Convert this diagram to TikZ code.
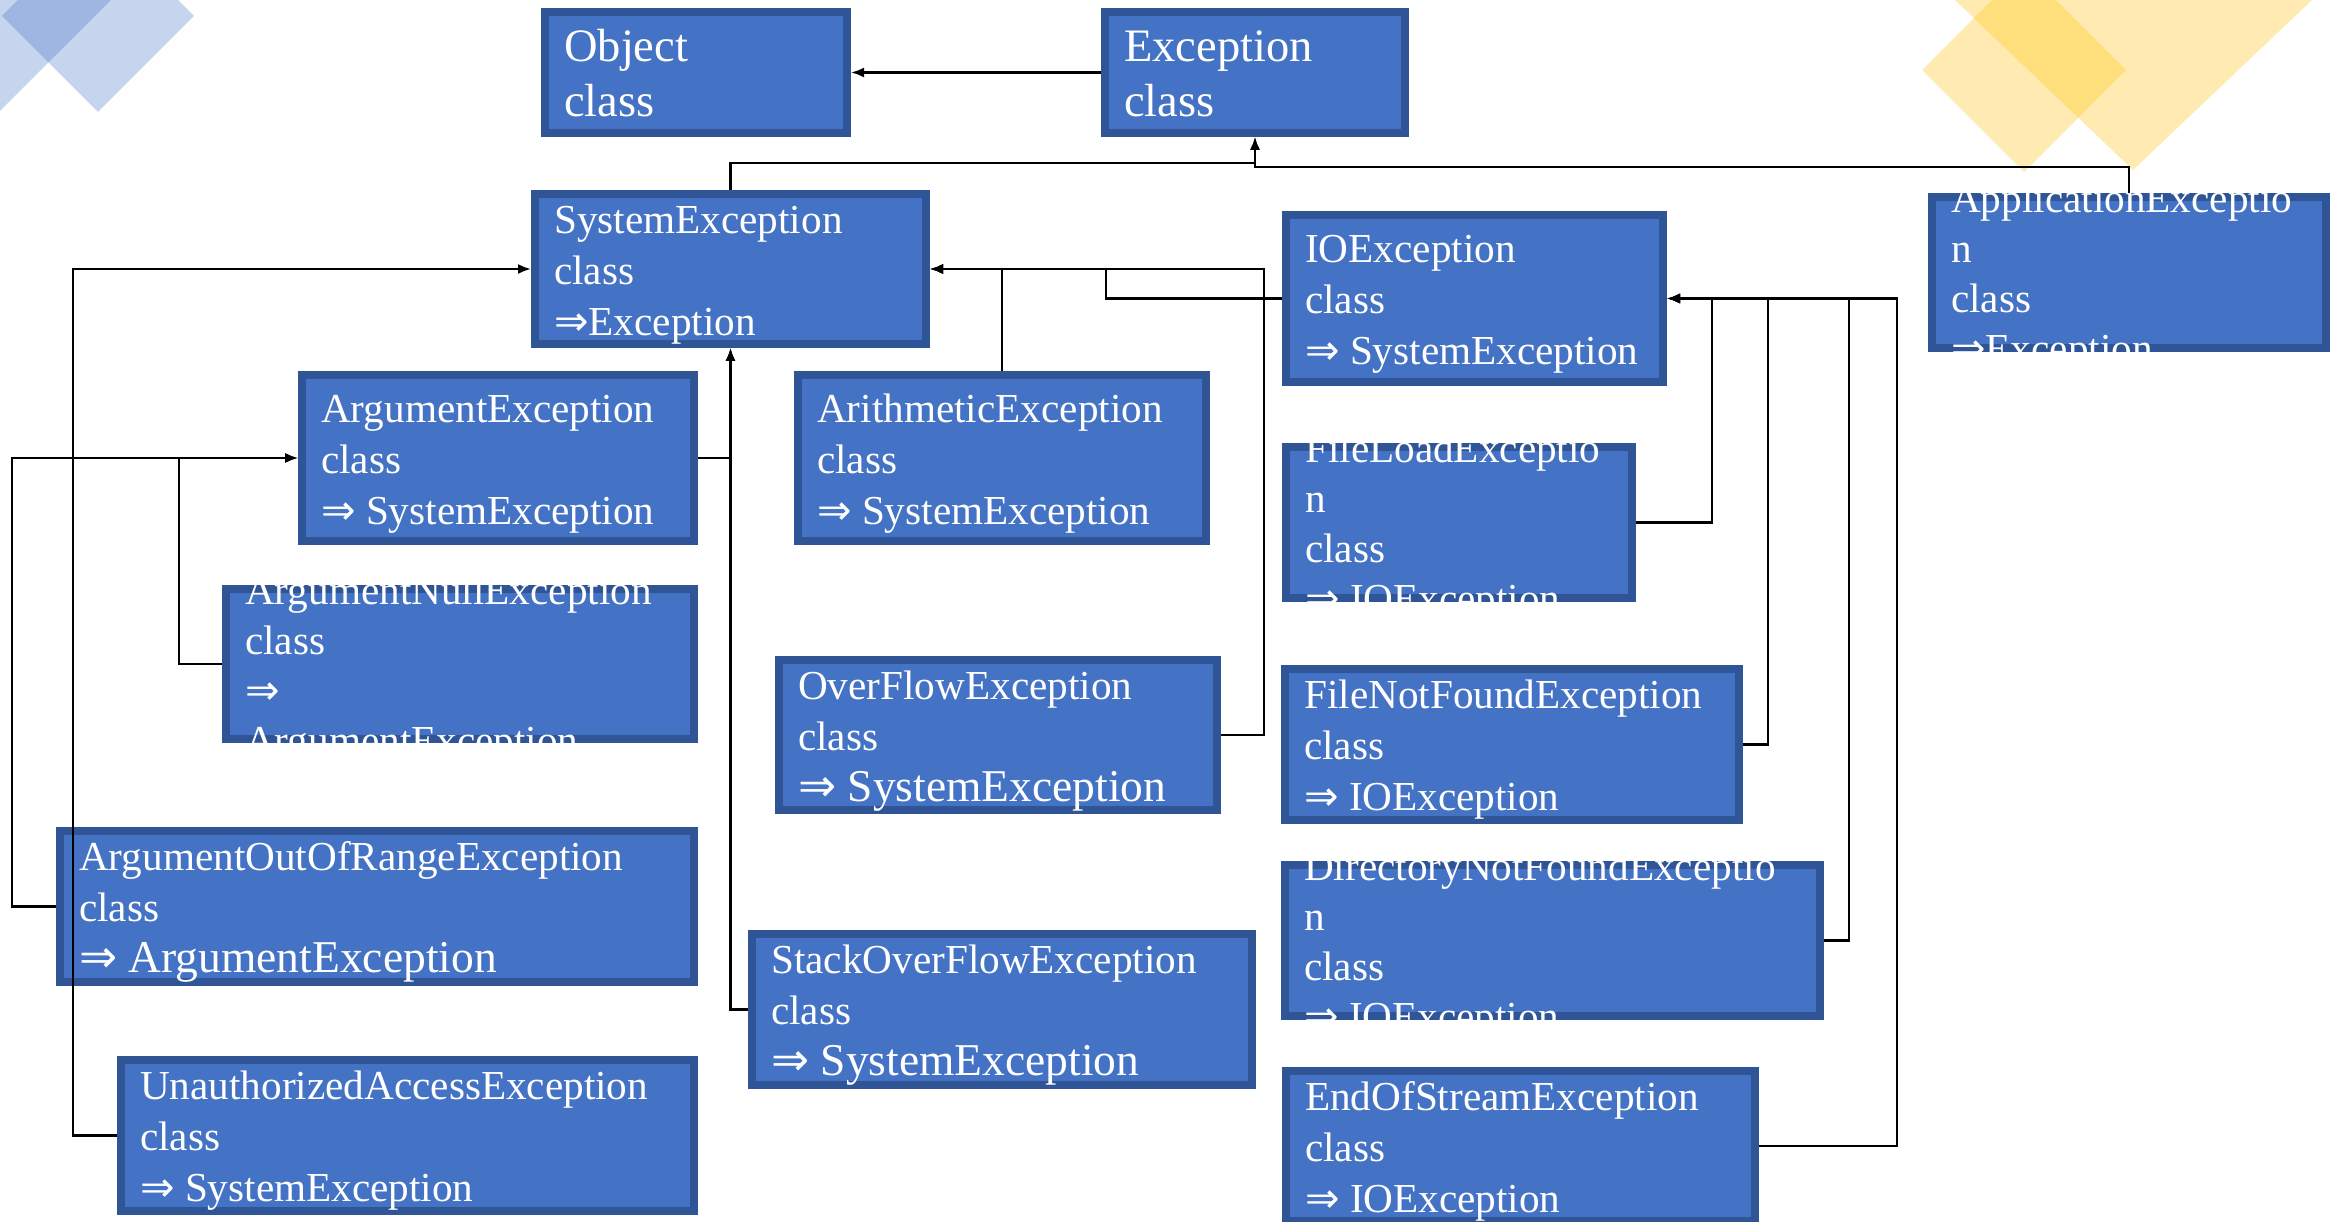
\documentclass[tikz,border=0pt]{standalone}
\usepackage{fontspec}
\setmainfont{Liberation Serif}
\newfontfamily\arrowfont{DejaVu Sans}
\usetikzlibrary{arrows.meta}

\definecolor{boxfill}{HTML}{4472C4}
\definecolor{boxline}{HTML}{2F5597}
\definecolor{accblue}{HTML}{4472C4}
\definecolor{accgold}{HTML}{FFC000}

% implication arrow used in the "=> parent" lines
\newcommand\imp{{\arrowfont ⇒}}
% one text line with a fixed strut: 0.8 of the line pitch above, 0.2 below
\newcommand\tline[1]{\hbox{\vrule height .8\baselineskip depth .2\baselineskip width 0pt\relax #1}}
\newcommand\bigline[1]{\tline{\fontsize{45.5}{51}\selectfont #1}}
\newcommand\fnorm{\fontsize{41.2}{51}\selectfont}
\newcommand\fbig{\fontsize{46.5}{55}\selectfont}
\newcommand\ffour{\fontsize{41.2}{50}\selectfont}

\tikzset{
  exbox/.style={rectangle, draw=boxline, fill=boxfill, line width=8pt, inner sep=0pt},
  extext/.style={anchor=west, inner sep=0pt, text=white},
  conn/.style={draw=black, line width=2.2pt, -{Latex[length=13pt,width=10pt]}},
}

% class box: name, x1, y1, x2, y2 (outer edges), font, lines
\newcommand\exbox[7]{%
  \pgfmathsetmacro\exW{#4-#2-8}\pgfmathsetmacro\exH{#5-#3-8}%
  \pgfmathsetmacro\exX{(#2+#4)/2}\pgfmathsetmacro\exY{(#3+#5)/2}%
  \node[exbox, minimum width=\exW pt, minimum height=\exH pt] (#1) at (\exX,\exY) {};
  \node[extext, font=#6] (#1-t) at ({#2+23},\exY) {\vbox{\lineskiplimit=-\maxdimen #7}};
}

\begin{document}
\begin{tikzpicture}[x=1pt, y=-1pt]
\useasboundingbox (0,0) rectangle (2346,1222);
\fill[white] (0,0) rectangle (2346,1222);

% corner ornaments
\fill[accblue, fill opacity=0.3] (0,0) -- (111,0) -- (0,111) -- cycle;
\fill[accblue, fill opacity=0.3] (2,16) -- (98,-80) -- (194,16) -- (98,112) -- cycle;
\fill[accgold, fill opacity=0.3] (1922,70) -- (2024,-32) -- (2126,70) -- (2024,172) -- cycle;
\fill[accgold, fill opacity=0.3] (1955,0) -- (2312,0) -- (2133,170) -- cycle;

% class boxes
\exbox{obj}{541}{8}{851}{137}{\fbig}{\tline{Object}\tline{class}}
\exbox{exc}{1101}{8}{1409}{137}{\fbig}{\tline{Exception}\tline{class}}
\exbox{sys}{531}{190}{930}{348}{\fnorm}{\tline{SystemException}\tline{class}\tline{\imp Exception}}
\exbox{app}{1928}{193}{2330}{352}{\ffour}{\tline{ApplicationExceptio}\tline{n}\tline{class}\tline{\imp Exception}}
\exbox{io}{1282}{211}{1667}{386}{\fnorm}{\tline{IOException}\tline{class}\tline{\imp{} SystemException}}
\exbox{arg}{298}{371}{698}{545}{\fnorm}{\tline{ArgumentException}\tline{class}\tline{\imp{} SystemException}}
\exbox{ari}{794}{371}{1210}{545}{\fnorm}{\tline{ArithmeticException}\tline{class}\tline{\imp{} SystemException}}
\exbox{anull}{222}{585}{698}{743}{\ffour}{\tline{ArgumentNullException}\tline{class}\tline{\imp}\tline{ArgumentException}}
\exbox{fload}{1282}{443}{1636}{602}{\ffour}{\tline{FileLoadExceptio}\tline{n}\tline{class}\tline{\imp{} IOException}}
\exbox{ovf}{775}{656}{1221}{814}{\fnorm}{\tline{OverFlowException}\tline{class}\bigline{\imp{} SystemException}}
\exbox{fnf}{1281}{665}{1743}{824}{\fnorm}{\tline{FileNotFoundException}\tline{class}\tline{\imp{} IOException}}
\exbox{aoor}{56}{827}{698}{986}{\fnorm}{\tline{ArgumentOutOfRangeException}\tline{class}\bigline{\imp{} ArgumentException}}
\exbox{sof}{748}{930}{1256}{1089}{\fnorm}{\tline{StackOverFlowException}\tline{class}\bigline{\imp{} SystemException}}
\exbox{dnf}{1281}{861}{1824}{1020}{\ffour}{\tline{DirectoryNotFoundExceptio}\tline{n}\tline{class}\tline{\imp{} IOException}}
\exbox{ua}{117}{1056}{698}{1215}{\fnorm}{\tline{UnauthorizedAccessException}\tline{class}\tline{\imp{} SystemException}}
\exbox{eos}{1282}{1067}{1759}{1225}{\fnorm}{\tline{EndOfStreamException}\tline{class}\tline{\imp{} IOException}}

% inheritance connectors
\draw[conn] (exc.west) -- (obj.east);
\draw[conn] (sys.north) -- ++(0,-27) -| (exc.south);
\draw[conn] (app.north) -- ++(0,-26) -| (exc.south);

\draw[conn] (ari.north) |- (sys.east);
\draw[conn] (io.west) -- ++(-176,0) |- (sys.east);
\draw[conn] (ovf.east) -- ++(43,0) |- (sys.east);
\draw[conn] (arg.east) -| (sys.south);
\draw[conn] (sof.west) -| (sys.south);
\draw[conn] (ua.west) -- ++(-44,0) |- (sys.west);

\draw[conn] (anull.west) -- ++(-43,0) |- (arg.west);
\draw[conn] (aoor.west) -- ++(-44,0) |- (arg.west);

\draw[conn] (fload.east) -- ++(76,0) |- (io.east);
\draw[conn] (fnf.east) -- ++(25,0) |- (io.east);
\draw[conn] (dnf.east) -- ++(25,0) |- (io.east);
\draw[conn] (eos.east) -- ++(138,0) |- (io.east);
\end{tikzpicture}
\end{document}
